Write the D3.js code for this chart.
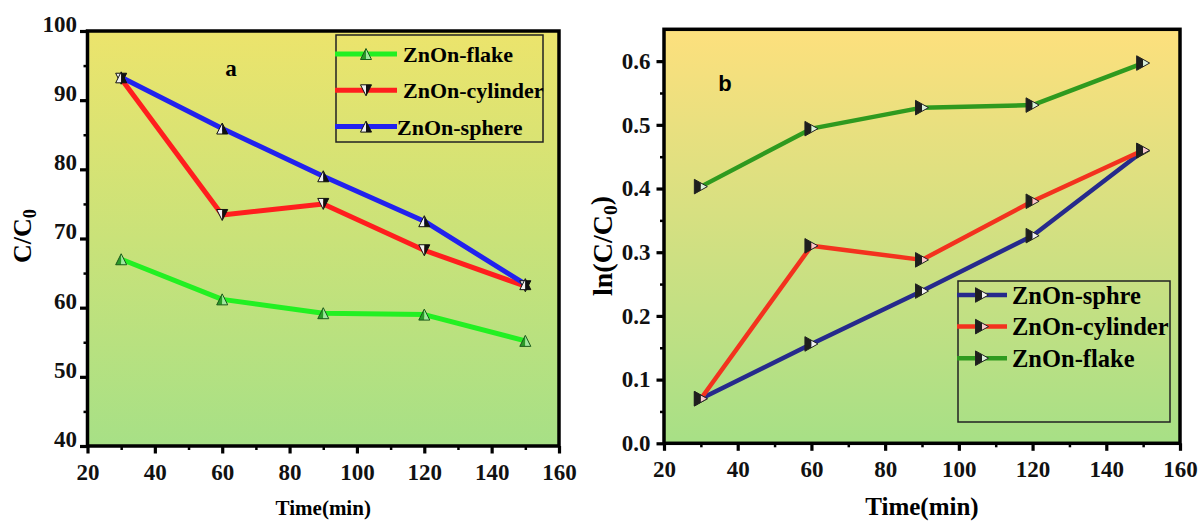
<!DOCTYPE html>
<html>
<head>
<meta charset="utf-8">
<script src="https://cdn.jsdelivr.net/npm/d3@7"></script>
<style>
  body { margin: 0; background: #fff; }
</style>
</head>
<body>
<div id="chart"></div>
<script>
// Degradation curves for three ZnO morphologies
// a: C/C0 vs time, b: ln(C/C0) vs time

// time points (min)
var times = [30, 60, 90, 120, 150];

// panel a - C/C0
var aFlake    = [67.0, 61.2, 59.2, 59.0, 55.2];
var aCylinder = [93.1, 73.4, 75.0, 68.3, 63.1];
var aSphere   = [93.3, 85.9, 79.0, 72.5, 63.4];

// panel b - ln(C/C0)
var bSphere   = [0.070, 0.156, 0.239, 0.326, 0.459];
var bCylinder = [0.070, 0.310, 0.288, 0.380, 0.460];
var bFlake    = [0.403, 0.494, 0.527, 0.531, 0.597];

// names as printed in the legends
var aNames = ['ZnOn-flake', 'ZnOn-cylinder', 'ZnOn-sphere'];
var bNames = ['ZnOn-sphre', 'ZnOn-cylinder', 'ZnOn-flake'];

// ticks
var xTicks = [20, 40, 60, 80, 100, 120, 140, 160];
var xMinor = [30, 50, 70, 90, 110, 130, 150];
var aYTicks = [40, 50, 60, 70, 80, 90, 100];
var aYMinor = [45, 55, 65, 75, 85, 95];
var bYTicks = [0, 0.1, 0.2, 0.3, 0.4, 0.5, 0.6];
var bYMinor = [0.05, 0.15, 0.25, 0.35, 0.45, 0.55];


var SERIF = "'Liberation Serif', 'Times New Roman', serif";

var svg = d3.select('#chart')
  .append('svg')
  .attr('width', 1198)
  .attr('height', 522)
  .style('display', 'block')
  .style('background', '#fff');

var defs = svg.append('defs');

function gradient(id, top, bottom) {
  var gr = defs.append('linearGradient')
    .attr('id', id)
    .attr('x1', 0).attr('y1', 0).attr('x2', 0).attr('y2', 1);
  gr.append('stop').attr('offset', '0%').attr('stop-color', top);
  gr.append('stop').attr('offset', '100%').attr('stop-color', bottom);
}
gradient('bgA', '#ece46c', '#a7e086');
gradient('bgB', '#fde07d', '#a7e086');


// marker shapes, split in two halves (left / right)
function markerPaths(type, s) {
  var w, h;
  if (type == 'up') {
    w = s / 2; h = s / 2;
    return [
      'M0,' + (-h) + 'L' + (-w) + ',' + h + 'L0,' + h + 'Z',
      'M0,' + (-h) + 'L0,' + h + 'L' + w + ',' + h + 'Z',
      'M0,' + (-h) + 'L' + (-w) + ',' + h + 'L' + w + ',' + h + 'Z'
    ];
  }
  if (type == 'down') {
    w = s / 2; h = s / 2;
    return [
      'M0,' + h + 'L' + (-w) + ',' + (-h) + 'L0,' + (-h) + 'Z',
      'M0,' + h + 'L0,' + (-h) + 'L' + w + ',' + (-h) + 'Z',
      'M0,' + h + 'L' + (-w) + ',' + (-h) + 'L' + w + ',' + (-h) + 'Z'
    ];
  }
  // right pointing
  w = s / 2; h = s * 0.56;
  return [
    'M' + (-w) + ',' + (-h) + 'L0,' + (-h / 2) + 'L0,' + (h / 2) + 'L' + (-w) + ',' + h + 'Z',
    'M0,' + (-h / 2) + 'L' + w + ',0L0,' + (h / 2) + 'Z',
    'M' + (-w) + ',' + (-h) + 'L' + w + ',0L' + (-w) + ',' + h + 'Z'
  ];
}

function drawMarker(g, cx, cy, m) {
  var p = markerPaths(m.type, m.size);
  var mg = g.append('g').attr('transform', 'translate(' + cx + ',' + cy + ')');
  mg.append('path').attr('d', p[0]).attr('fill', m.left);
  mg.append('path').attr('d', p[1]).attr('fill', m.right);
  mg.append('path').attr('d', p[2]).attr('fill', 'none')
    .attr('stroke', m.edge).attr('stroke-width', 1);
}


function drawPanel(cfg) {
  var x = d3.scaleLinear().domain([20, 160]).range([cfg.left, cfg.right]);
  var y = d3.scaleLinear().domain(cfg.yDomain).range([cfg.bottom, cfg.top]);

  var g = svg.append('g');

  // plot background
  g.append('rect')
    .attr('x', cfg.left).attr('y', cfg.top)
    .attr('width', cfg.right - cfg.left)
    .attr('height', cfg.bottom - cfg.top)
    .attr('fill', 'url(#' + cfg.bg + ')');

  // minor ticks
  g.append('g')
    .attr('transform', 'translate(0,' + cfg.bottom + ')')
    .call(d3.axisBottom(x).tickValues(xMinor).tickSize(4).tickFormat(''))
    .call(function (a) { a.select('.domain').remove(); })
    .selectAll('line').attr('stroke-width', 2.5);
  g.append('g')
    .attr('transform', 'translate(' + cfg.left + ',0)')
    .call(d3.axisLeft(y).tickValues(cfg.yMinor).tickSize(4).tickFormat(''))
    .call(function (a) { a.select('.domain').remove(); })
    .selectAll('line').attr('stroke-width', 2.5);

  // major ticks + labels
  var xa = g.append('g')
    .attr('transform', 'translate(0,' + cfg.bottom + ')')
    .call(d3.axisBottom(x).tickValues(xTicks).tickSize(7.5).tickPadding(cfg.xPad))
    .call(function (a) { a.select('.domain').remove(); });
  xa.selectAll('line').attr('stroke-width', 3.2);
  xa.selectAll('text')
    .style('font', 'bold ' + cfg.tickFont + 'px ' + SERIF)
    .attr('fill', '#111');

  var ya = g.append('g')
    .attr('transform', 'translate(' + cfg.left + ',0)')
    .call(d3.axisLeft(y).tickValues(cfg.yTicks).tickSize(7.5)
      .tickPadding(cfg.yPad).tickFormat(cfg.yFormat))
    .call(function (a) { a.select('.domain').remove(); });
  ya.selectAll('line').attr('stroke-width', 3.2);
  ya.selectAll('text')
    .style('font', 'bold ' + cfg.tickFont + 'px ' + SERIF)
    .attr('fill', '#111')
    .attr('dy', cfg.yDy);

  // series lines
  var line = d3.line()
    .x(function (d) { return x(d[0]); })
    .y(function (d) { return y(d[1]); });

  cfg.series.forEach(function (s) {
    var pts = times.map(function (t, i) { return [t, s.values[i]]; });
    g.append('path')
      .datum(pts)
      .attr('d', line)
      .attr('fill', 'none')
      .attr('stroke', s.color)
      .attr('stroke-width', cfg.lineWidth)
      .attr('stroke-linejoin', 'round');
  });
  cfg.series.forEach(function (s) {
    times.forEach(function (t, i) {
      drawMarker(g, x(t), y(s.values[i]), s.marker);
    });
  });

  // frame
  g.append('rect')
    .attr('x', cfg.left).attr('y', cfg.top)
    .attr('width', cfg.right - cfg.left)
    .attr('height', cfg.bottom - cfg.top)
    .attr('fill', 'none')
    .attr('stroke', '#000')
    .attr('stroke-width', 3.5);

  // panel letter
  g.append('text')
    .attr('x', cfg.letter.x).attr('y', cfg.letter.y)
    .attr('text-anchor', 'middle')
    .style('font', cfg.letter.font)
    .text(cfg.letter.text);

  // x title
  g.append('text')
    .attr('x', (cfg.left + cfg.right) / 2)
    .attr('y', 515)
    .attr('text-anchor', 'middle')
    .style('font', 'bold ' + cfg.titleFont + 'px ' + SERIF)
    .text('Time(min)');

  // y title
  var yt = g.append('text')
    .attr('transform', 'translate(' + cfg.yTitleX + ',' + cfg.yTitleY + ') rotate(-90)')
    .attr('text-anchor', 'middle')
    .style('font', 'bold ' + cfg.yTitleFont + 'px ' + SERIF);
  yt.append('tspan').text(cfg.yTitle[0]);
  yt.append('tspan').attr('dy', '0.25em')
    .style('font-size', (cfg.yTitleFont * 0.7) + 'px').text('0');
  if (cfg.yTitle[1]) {
    yt.append('tspan').attr('dy', '-0.25em').text(cfg.yTitle[1]);
  }

  // legend
  var L = cfg.legend;
  g.append('rect')
    .attr('x', L.x0).attr('y', L.y0)
    .attr('width', L.x1 - L.x0).attr('height', L.y1 - L.y0)
    .attr('fill', 'none')
    .attr('stroke', '#222')
    .attr('stroke-width', 1.5);
  cfg.series.forEach(function (s, i) {
    var ry = L.rowY + i * L.rowGap;
    g.append('line')
      .attr('x1', L.lineX0).attr('x2', L.lineX1)
      .attr('y1', ry).attr('y2', ry)
      .attr('stroke', s.color)
      .attr('stroke-width', cfg.lineWidth);
    drawMarker(g, (L.lineX0 + L.lineX1) / 2, ry, s.marker);
    g.append('text')
      .attr('x', L.textX[i]).attr('y', ry + L.font * 0.36)
      .style('font', 'bold ' + L.font + 'px ' + SERIF)
      .text(s.name);
  });
}


// panel a
drawPanel({
  left: 87.5, right: 559, top: 31, bottom: 446,
  bg: 'bgA',
  yDomain: [40, 100],
  yTicks: aYTicks, yMinor: aYMinor,
  yFormat: d3.format('d'),
  yDy: '0.02em',
  xPad: 10, yPad: 3,
  tickFont: 23, titleFont: 21, yTitleFont: 26,
  lineWidth: 5,
  yTitle: ['C/C'],
  yTitleX: 31, yTitleY: 236,
  letter: { x: 231, y: 76, text: 'a', font: 'bold 23px ' + SERIF },
  series: [
    { name: aNames[0], values: aFlake, color: '#22f022',
      marker: { type: 'up', size: 11, left: '#2a9a2a', right: '#9fe89f', edge: '#1a5a1a' } },
    { name: aNames[1], values: aCylinder, color: '#ff1e1e',
      marker: { type: 'down', size: 11, left: '#f0f0f0', right: '#111', edge: '#111' } },
    { name: aNames[2], values: aSphere, color: '#2222ee',
      marker: { type: 'up', size: 11, left: '#f0f0f0', right: '#111', edge: '#111' } }
  ],
  legend: { x0: 336, y0: 35, x1: 543, y1: 142,
    lineX0: 335, lineX1: 397, textX: [403, 403, 397],
    rowY: 54, rowGap: 36.3, font: 22 }
});

// panel b
drawPanel({
  left: 664, right: 1180, top: 29.3, bottom: 443.3,
  bg: 'bgB',
  yDomain: [0, 0.65],
  yTicks: bYTicks, yMinor: bYMinor,
  yFormat: d3.format('.1f'),
  yDy: '0.32em',
  xPad: 10, yPad: 6,
  tickFont: 23, titleFont: 25, yTitleFont: 28,
  lineWidth: 4.5,
  yTitle: ['ln(C/C', ')'],
  yTitleX: 612, yTitleY: 246,
  letter: { x: 725, y: 91, text: 'b', font: 'bold 22px "Liberation Sans", Arial, sans-serif' },
  series: [
    { name: bNames[0], values: bSphere, color: '#262a8c',
      marker: { type: 'right', size: 13, left: '#1e1e1e', right: '#f2f2f2', edge: '#222' } },
    { name: bNames[1], values: bCylinder, color: '#f3321e',
      marker: { type: 'right', size: 13, left: '#1e1e1e', right: '#f8c8cc', edge: '#222' } },
    { name: bNames[2], values: bFlake, color: '#2f9a1f',
      marker: { type: 'right', size: 13, left: '#1e1e1e', right: '#dcefdc', edge: '#222' } }
  ],
  legend: { x0: 958, y0: 281, x1: 1170, y1: 422,
    lineX0: 957, lineX1: 1007, textX: [1012, 1012, 1012],
    rowY: 295, rowGap: 31.6, font: 24.5 }
});
</script>
</body>
</html>
